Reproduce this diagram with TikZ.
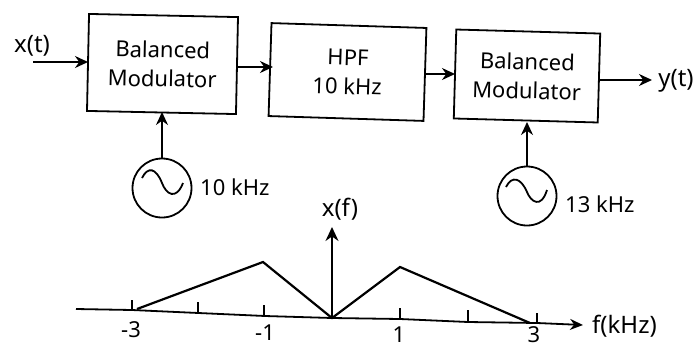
\documentclass[tikz,border=0pt]{standalone}
\usepackage{fontspec}
\setmainfont{Noto Sans}
\usetikzlibrary{arrows.meta}
\tikzset{
  blockbox/.style={draw,line width=1.8pt,inner sep=0pt,align=center,font=\fontsize{22}{29}\selectfont},
  sig/.style={line width=1.8pt,-{Stealth[length=13pt,width=12pt]}},
  lab/.style={font=\fontsize{24}{26}\selectfont,inner sep=0pt},
  numlab/.style={font=\fontsize{22}{24}\selectfont,inner sep=0pt},
  osc/.style={draw,circle,line width=1.8pt,minimum size=59pt,inner sep=0pt},
  tickmark/.style={line width=1.5pt},
  curve/.style={line width=2.2pt,line join=miter},
  wave/.style={line width=1.8pt}
}
\begin{document}
\begin{tikzpicture}[x=1pt,y=-1pt]
\useasboundingbox (0,0) rectangle (697,349);
\node[blockbox,rotate=-1.2,minimum width=149pt,minimum height=97pt] (m1) at (162.5,64) {Balanced\\Modulator};
\node[blockbox,rotate=-1.8,minimum width=155pt,minimum height=93pt] (h) at (347.5,72) {HPF\\10 kHz};
\node[blockbox,rotate=-1.6,minimum width=144pt,minimum height=89pt] (m2) at (527,76) {Balanced\\Modulator};
\node[osc] (o1) at (162,188) {};
\node[osc] (o2) at (527,196) {};
\draw[wave,shift={(o1.center)}] (-20,-10) .. controls (-14,-22) and (-6,-20) .. (0,-5) .. controls (4,6) and (14,13) .. (21,-5);
\draw[wave,shift={(o2.center)}] (-21,-9) .. controls (-15,-21) and (-6,-18) .. (0,-4) .. controls (4,6) and (14,13) .. (20,-6);
\node[numlab,anchor=west] (f1) at (200,187) {10 kHz};
\node[numlab,anchor=west] (f2) at (565,204) {13 kHz};
\node[lab] (xt) at (32,46) {x(t)};
\node[lab] (yt) at (676,81) {y(t)};
\coordinate (xs) at (33,62);
\coordinate (ye) at (652,80);
\draw[sig] (xs) -- (88,62);
\draw[sig] (237,67) -- (273,67);
\draw[sig] (425,74) -- (455,74);
\draw[sig] (599.5,80) -- (ye);
\draw[sig] (o1.north) -- (162,112);
\draw[sig] (o2.north) -- (527,122);
% spectrum
\coordinate (al) at (76,309);
\coordinate (a1) at (132,310);
\coordinate (a2) at (265,316);
\coordinate (a3) at (332,318);
\coordinate (a4) at (400,319);
\coordinate (a5) at (468,322);
\coordinate (a6) at (537,323);
\coordinate (ar) at (583,325);
\coordinate (pm3) at (137,309);
\coordinate (pm1) at (263,262);
\coordinate (p0) at (332,318);
\coordinate (pp1) at (400,267);
\coordinate (pp3) at (530,323);
\coordinate (top) at (332,227);
\draw[line width=1.8pt,-{Stealth[length=13pt,width=11pt]}] (al) -- (a1) -- (a2) -- (a3) -- (a4) -- (a5) -- (a6) -- (ar);
\draw[line width=1.8pt,-{Stealth[length=14pt,width=13pt]}] (p0) -- (top);
\draw[curve] (pm3) -- (pm1) -- (p0) -- (pp1) -- (pp3);
\foreach \px/\pa/\pb in {132/300/310,198/302/314,264/305/316,400/308/319,468/310/322,537/313/323}
  \draw[tickmark] (\px,\pa) -- (\px,\pb);
\node[lab] (xf) at (340,209) {x(f)};
\node[lab,anchor=west] (fk) at (592,326) {f(kHz)};
\node[numlab] (lm3) at (131,330) {-3};
\node[numlab] (lm1) at (265,333) {-1};
\node[numlab] (l1) at (399,335) {1};
\node[numlab] (l3) at (534,335) {3};
\end{tikzpicture}
\end{document}
